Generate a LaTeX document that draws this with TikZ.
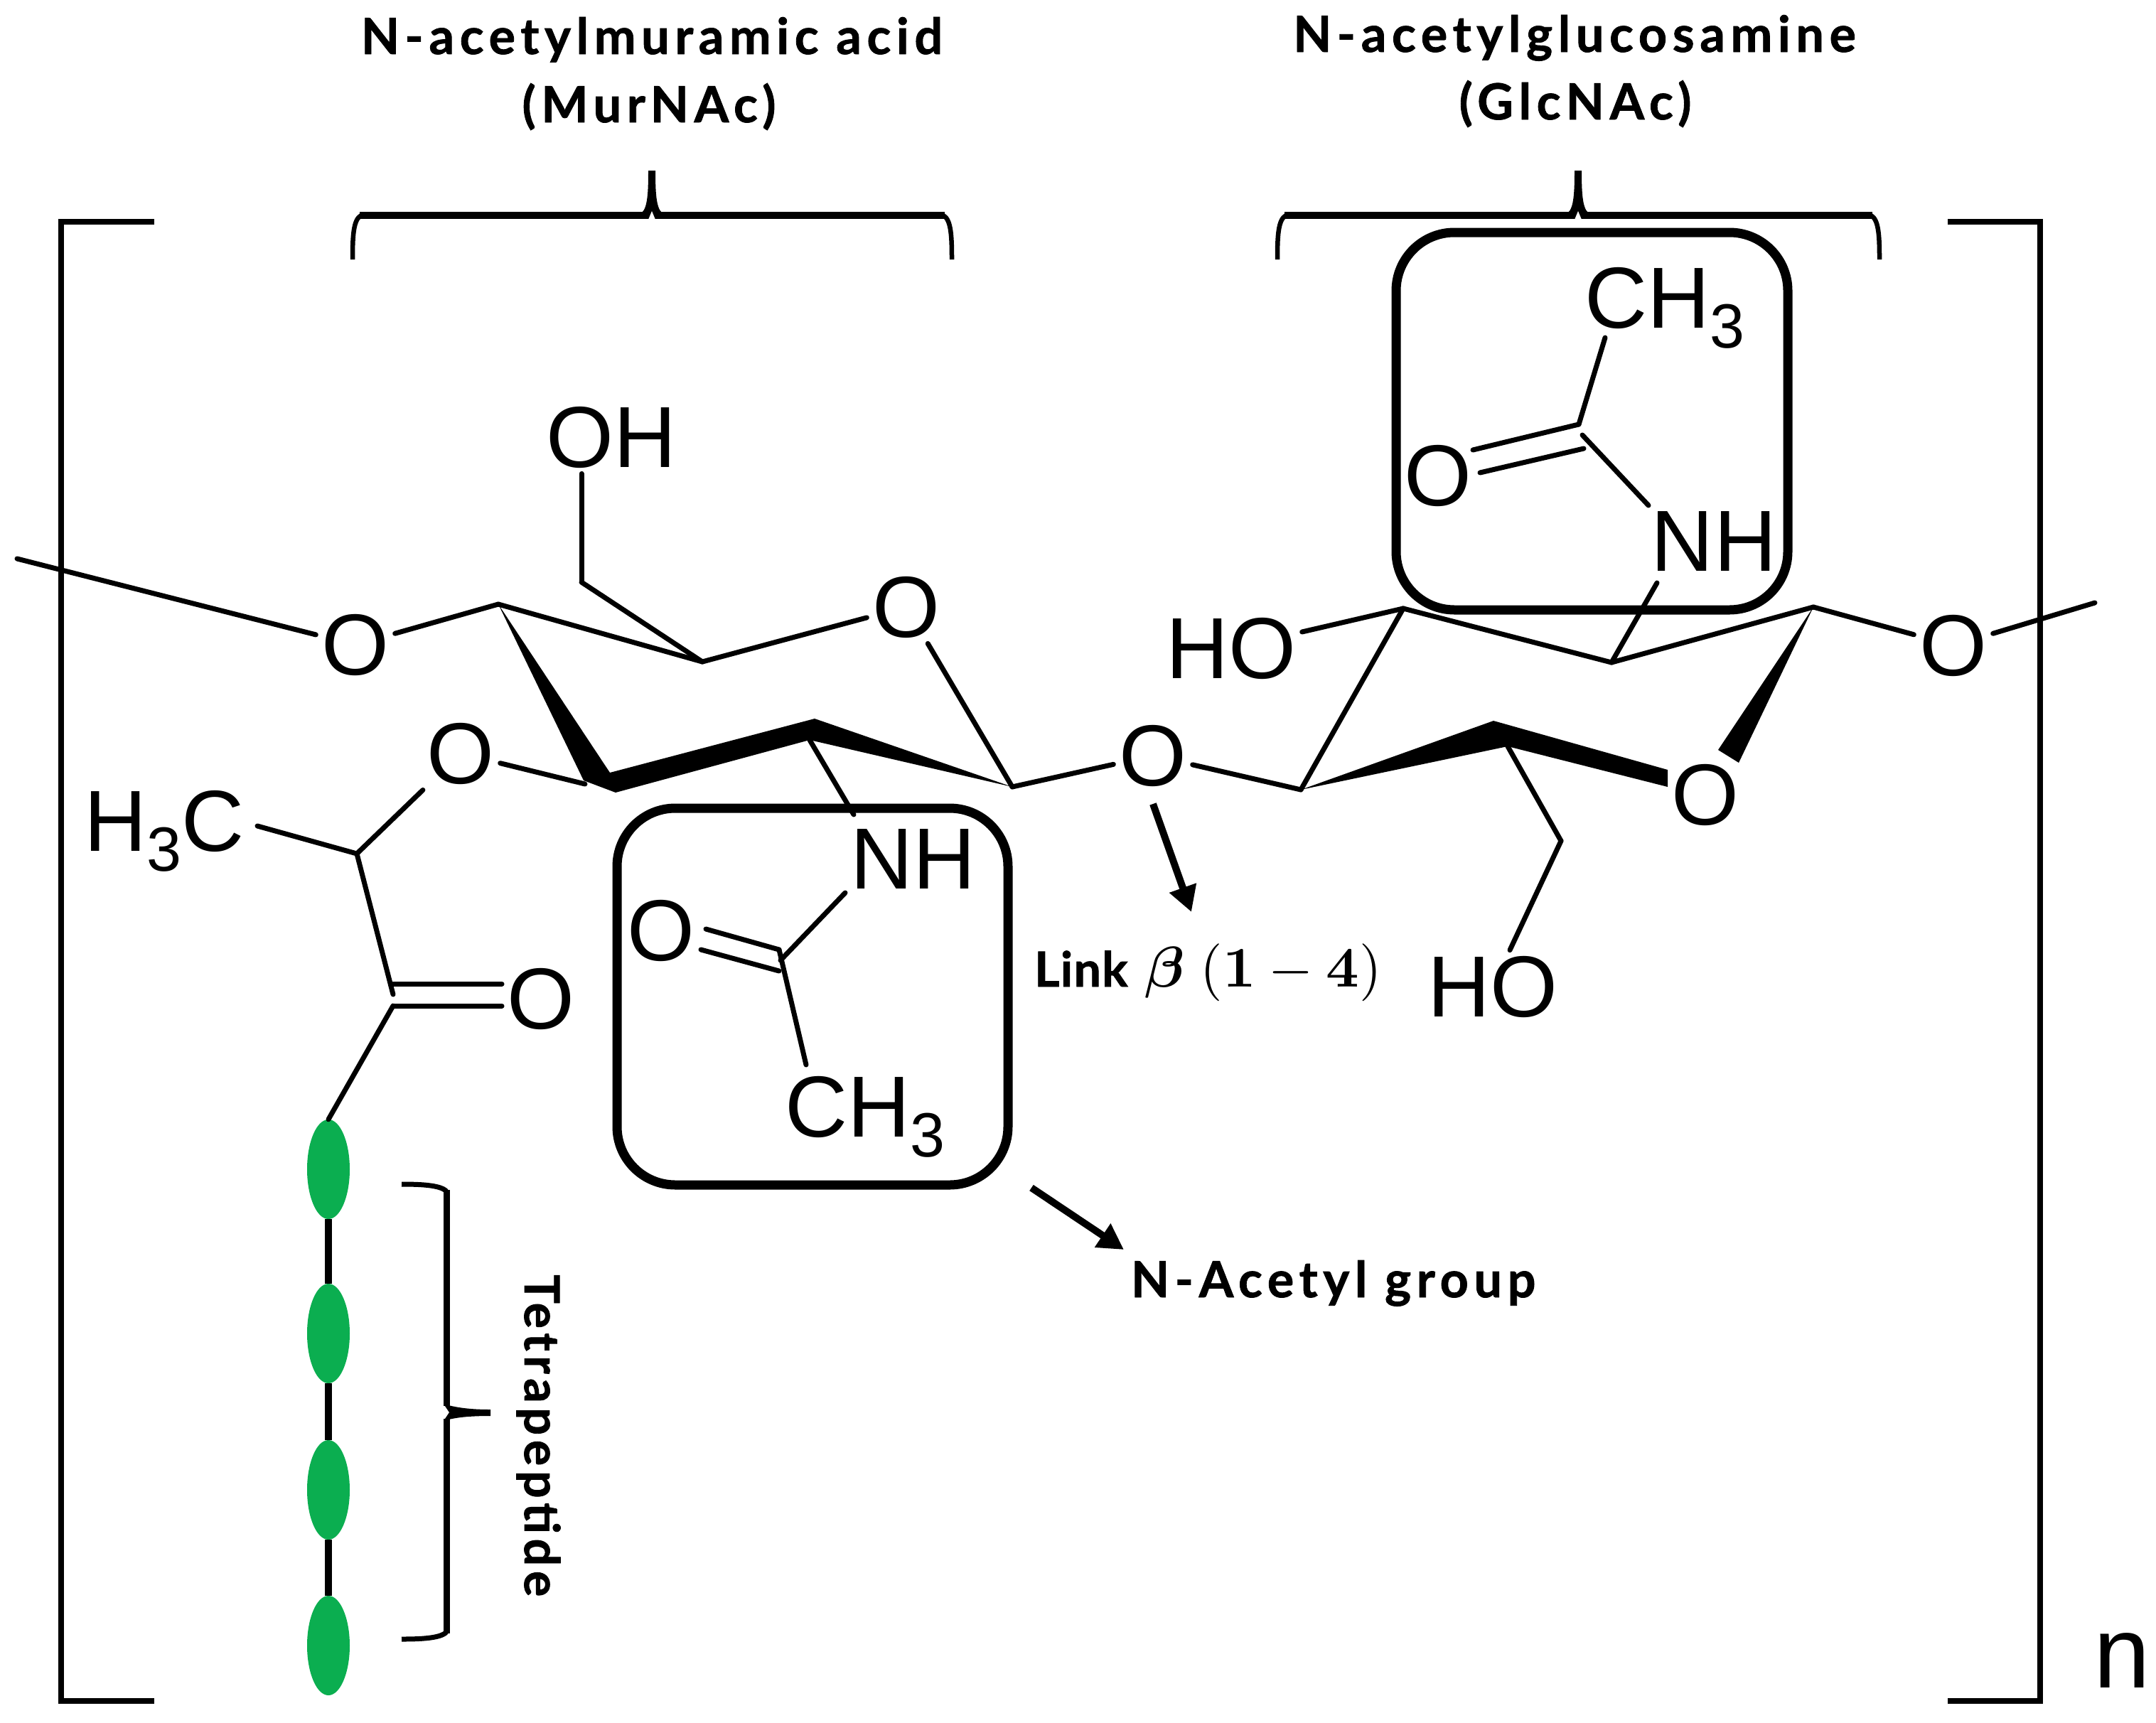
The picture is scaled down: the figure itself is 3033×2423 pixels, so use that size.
\documentclass[tikz,border=0pt]{standalone}
\usepackage[no-math]{fontspec}
\usepackage{amsmath}
\usetikzlibrary{arrows.meta,shapes.geometric}
\newfontfamily\chemf{Liberation Sans}
\newfontfamily\labf[LetterSpace=11,FakeBold=1.2]{Lato}
\newfontfamily\labt[LetterSpace=10,FakeBold=1.2]{Lato}
\newfontfamily\labl[LetterSpace=2,FakeBold=1.2]{Lato}
\newcommand\chsub{\raisebox{-28pt}{\fontsize{88}{88}\selectfont 3}}
\definecolor{pepgreen}{RGB}{11,174,80}
\newcommand\hbrace[3]{%
  \draw[line width=6.5pt] (#1,365) .. controls (#1,332) and (#1+1,309) .. (#1+12,303);
  \draw[line width=6.5pt] (#2,365) .. controls (#2,332) and (#2-1,309) .. (#2-12,303);
  \draw[line width=10pt] (#1+10,303) -- (#2-10,303);
  \fill (#3-14,299) .. controls (#3-6,292) and (#3-5,270) .. (#3-5,240) -- (#3+5,240) .. controls (#3+5,270) and (#3+6,292) .. (#3+14,299) -- cycle;
  \fill[white] (#3-5,309) -- (#3,297) -- (#3+5,309) -- cycle;
}
\tikzset{
  atom/.style={font=\chemf\fontsize{122}{122}\selectfont, inner sep=8pt},
  atomb/.style={font=\chemf\fontsize{122}{122}\selectfont, inner sep=0pt, anchor=base west},
  lab/.style={font=\labf\bfseries\fontsize{70}{70}\selectfont, inner sep=0pt},
  labtetra/.style={font=\labt\bfseries\fontsize{68}{68}\selectfont, inner sep=0pt},
  lablink/.style={font=\labl\bfseries\fontsize{68}{68}\selectfont, inner sep=0pt},
  bond/.style={line width=7pt, line cap=round},
  brack/.style={line width=8pt, line join=miter},
  roundbox/.style={line width=13pt, rounded corners=82pt},
  pep/.style={ellipse, fill=pepgreen, minimum width=60pt, minimum height=140pt, inner sep=0pt},
  pepbond/.style={line width=10pt},
  pointer/.style={line width=10pt, -{Triangle[length=36pt,width=38pt]}},
}
\begin{document}
\begin{tikzpicture}[x=1pt,y=-1pt]
\useasboundingbox (0,0) rectangle (3033,2423);

% named vertices
\coordinate (free1) at (24,786);
\coordinate (free2) at (2947,848);
\coordinate (c1) at (701,850);
\coordinate (c2) at (988,931);
\coordinate (ch2a) at (818,819);
\coordinate (c3) at (823,1103);
\coordinate (c4) at (1424,1107);
\coordinate (c5) at (1139,1041);
\coordinate (ch) at (502,1201);
\coordinate (cco) at (553,1399);
\coordinate (cco1) at (553,1384);
\coordinate (cco2) at (553,1415);
\coordinate (co1) at (706,1384);
\coordinate (co2) at (706,1415);
\coordinate (d1) at (1974,856);
\coordinate (d2) at (2267,932);
\coordinate (d3) at (2551,854);
\coordinate (d4) at (1830,1111);
\coordinate (d5) at (2121,1050);
\coordinate (ch2b) at (2196,1183);

% atoms
\node[atom] (O1) at (500,907) {O};
\node[atom] (OH) at (860,615) {OH};
\node[atom] (Or1) at (1275,854) {O};
\node[atom] (O2) at (648,1060) {O};
\node[atomb] (H3C) at (118,1197) {H\chsub C};
\node[atom] (O3) at (761,1405) {O};
\node[atom] (OL) at (1622,1063) {O};
\node[atom] (HO1) at (1732,912) {HO};
\node[atom] (Or2) at (2399,1118) {O};
\node[atom] (O4) at (2748,908) {O};
\node[atom] (HO2) at (2100,1388) {HO};
\node[atom] (NH1) at (1285,1209) {NH};
\node[atom] (Oa1) at (930,1309) {O};
\node[atomb] (CH31) at (1104,1599) {CH\chsub};
\node[atomb] (CH32) at (2229,461) {CH\chsub};
\node[atom] (Oa2) at (2023,669) {O};
\node[atom] (NH2) at (2411,762) {NH};

% peptide chain
\node[pep] (p1) at (462,1645) {};
\node[pep] (p2) at (462,1876) {};
\node[pep] (p3) at (462,2096) {};
\node[pep] (p4) at (462,2315) {};
\draw[pepbond] (p1) -- (p2);
\draw[pepbond] (p2) -- (p3);
\draw[pepbond] (p3) -- (p4);

% MurNAc ring
\draw[bond] (free1) -- (O1);
\draw[bond] (O1) -- (c1);
\draw[bond] (c1) -- (c2);
\draw[bond] (c2) -- (ch2a);
\draw[bond] (ch2a) -- (ch2a |- OH.south);
\draw[bond] (c2) -- (Or1);
\draw[bond] (Or1) -- (c4);
\fill[line join=round] (c1) -- (821,1098) -- (866,1115) -- (c5) -- (c4) -- (1146,1011) -- (858,1087) -- cycle;
\draw[bond] (O2) -- (c3);
\draw[bond] (O2) -- (ch);
\coordinate (h3cb) at (362,1162);
\draw[bond] (h3cb) -- (ch);
\draw[bond] (ch) -- (cco);
\draw[bond] (cco1) -- (co1);
\draw[bond] (cco2) -- (co2);
\draw[bond] (cco2) -- (p1.north);

% N-acetyl on MurNAc
\coordinate (n1a) at (1201,1146);
\coordinate (n1b) at (1189,1256);
\coordinate (ca1) at (1098,1351);
\coordinate (ca1t) at (1096,1336);
\coordinate (ca1b) at (1096,1366);
\coordinate (oa1t) at (993,1307);
\coordinate (oa1b) at (986,1336);
\coordinate (m1) at (1134,1498);
\draw[bond] (c5) -- (n1a);
\draw[bond] (n1b) -- (ca1);
\draw[bond] (ca1t) -- (oa1t);
\draw[bond] (ca1b) -- (oa1b);
\draw[bond] (ca1t) -- (m1);

% glycosidic link
\draw[bond] (c4) -- (OL);
\draw[bond] (OL) -- (d4);

% GlcNAc ring
\draw[bond] (HO1) -- (d1);
\draw[bond] (d1) -- (d4);
\draw[bond] (d1) -- (d2);
\draw[bond] (d2) -- (d3);
\draw[bond] (d3) -- (O4);
\draw[bond] (O4) -- (free2);
\fill (d4) -- (2101,1014) -- (2346,1083) -- (2346,1107) -- (d5) -- cycle;
\fill (d3) -- (2417,1055) -- (2446,1073) -- cycle;
\draw[bond] (d5) -- (ch2b);
\draw[bond] (ch2b) -- (HO2);

% N-acetyl on GlcNAc
\coordinate (n2a) at (2331,820);
\coordinate (n2b) at (2319,711);
\coordinate (ca2) at (2226,612);
\coordinate (ca2t) at (2221,597);
\coordinate (ca2b) at (2228,631);
\coordinate (oa2t) at (2072,633);
\coordinate (oa2b) at (2082,665);
\coordinate (m2) at (2258,475);
\draw[bond] (d2) -- (n2a);
\draw[bond] (n2b) -- (ca2);
\draw[bond] (ca2t) -- (oa2t);
\draw[bond] (ca2b) -- (oa2b);
\draw[bond] (ca2t) -- (m2);

% highlight boxes
\draw[roundbox] (868,1137) rectangle (1418,1667);
\draw[roundbox] (1964,327) rectangle (2515,858);

% repeat-unit brackets
\draw[brack] (217,312) -- (86,312) -- (86,2393) -- (217,2393);
\draw[brack] (2740,312) -- (2870,312) -- (2870,2393) -- (2740,2393);
\node[font=\chemf\fontsize{143}{143}\selectfont, inner sep=0pt, anchor=base west] (nlabel) at (2945,2374) {n};

% top braces
\hbrace{496}{1339}{917}
\hbrace{1797}{2644}{2220}
\node[lab, anchor=base] (mur) at (917,76) {N-acetylmuramic acid};
\node[lab, anchor=base] (murs) at (913,172) {(MurNAc)};
\node[lab, anchor=base] (glc) at (2215,73) {N-acetylglucosamine};
\node[lab, anchor=base] (glcs) at (2216,168) {(GlcNAc)};

% tetrapeptide brace
\draw[line width=7pt] (565,1666) .. controls (590,1666) and (620,1667) .. (628,1676);
\draw[line width=7pt] (565,2306) .. controls (590,2306) and (620,2305) .. (628,2296);
\draw[line width=9pt] (628,1674) -- (628,1978);
\draw[line width=9pt] (628,1996) -- (628,2298);
\fill (624,1975) .. controls (640,1980) and (660,1983) .. (690,1983) -- (690,1992) .. controls (660,1992) and (640,1994) .. (624,1999) -- (632,1987) -- cycle;
\node[labtetra, anchor=base west, rotate=-90] (tetra) at (738,1793) {Tetrapeptide};

% pointers and their labels
\node[lablink, anchor=base west] (link) at (1455,1388) {\makebox[155pt][l]{Link}\scalebox{8.1}{\normalsize$\boldsymbol{\beta}\;(\mathbf{1}-\mathbf{4})$}};
\node[lab, anchor=base west] (acetyl) at (1591,1825) {N-Acetyl group};
\coordinate (la) at (1622,1131);
\coordinate (lb) at (1676,1283);
\coordinate (ga) at (1451,1671);
\coordinate (gb) at (1581,1758);
\draw[pointer] (la) -- (lb);
\draw[pointer] (ga) -- (gb);
\end{tikzpicture}
\end{document}
